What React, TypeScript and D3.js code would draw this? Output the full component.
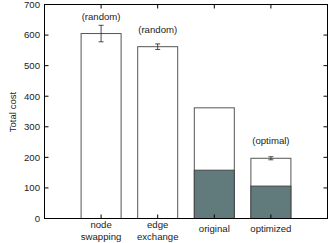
import * as d3 from "d3";

const categories = ["node swapping", "edge exchange", "original", "optimized"];
const catLines = [["node", "swapping"], ["edge", "exchange"], ["original"], ["optimized"]];
const totals = [605, 562, 362, 197];
const darkPart = [0, 0, 158, 106];
const errors = [27, 9, 0, 5];
const notes = ["(random)", "(random)", "", "(optimal)"];
const yTicks = [0, 100, 200, 300, 400, 500, 600, 700];

export default function App() {
  const width = 329;
  const height = 243;
  const left = 44.5;
  const right = 327.5;
  const top = 4.5;
  const bottom = 218.5;

  const x = d3.scaleLinear([0, categories.length + 1], [left, right]);
  const y = d3.scaleLinear([0, 700], [bottom, top]);
  const barW = 40;
  const font = "'Liberation Sans', Arial, sans-serif";

  return (
    <svg
      width={width}
      height={height}
      style={{ position: "absolute", left: 0, top: 0, background: "#fff" }}
      fontFamily={font}
      fontSize={9.6}
    >
      {categories.map((c, i) => {
        const cx = x(i + 1);
        return (
          <g key={c}>
            <rect
              x={cx - barW / 2}
              y={y(totals[i])}
              width={barW}
              height={y(0) - y(totals[i])}
              fill="#fff"
              stroke="#555"
              strokeWidth={1}
            />
            {darkPart[i] > 0 && (
              <rect
                x={cx - barW / 2}
                y={y(darkPart[i])}
                width={barW}
                height={y(0) - y(darkPart[i])}
                fill="#617b7c"
                stroke="#444"
                strokeWidth={1}
              />
            )}
            {errors[i] > 0 && (
              <g stroke="#222" strokeWidth={0.8}>
                <line x1={cx} x2={cx} y1={y(totals[i] - errors[i])} y2={y(totals[i] + errors[i])} />
                <line x1={cx - 2.5} x2={cx + 2.5} y1={y(totals[i] - errors[i])} y2={y(totals[i] - errors[i])} />
                <line x1={cx - 2.5} x2={cx + 2.5} y1={y(totals[i] + errors[i])} y2={y(totals[i] + errors[i])} />
              </g>
            )}
            {notes[i] && (
              <text x={cx} y={y(totals[i]) - 14} textAnchor="middle" fill="#222">
                {notes[i]}
              </text>
            )}
            <text textAnchor="middle" fill="#222">
              {catLines[i].map((t, j) => (
                <tspan
                  key={j}
                  x={cx}
                  y={catLines[i].length === 1 ? 232 : 228 + j * 12}
                >
                  {t}
                </tspan>
              ))}
            </text>
          </g>
        );
      })}
      {/* category ticks, top and bottom */}
      {categories.map((c, i) => (
        <g key={"t" + c} stroke="#000" strokeWidth={1}>
          <line x1={x(i + 1)} x2={x(i + 1)} y1={bottom} y2={bottom - 4} />
          <line x1={x(i + 1)} x2={x(i + 1)} y1={top} y2={top + 4} />
        </g>
      ))}
      {yTicks.map((t) => (
        <g key={t}>
          <line x1={left} x2={left + 4} y1={y(t)} y2={y(t)} stroke="#000" />
          <line x1={right} x2={right - 4} y1={y(t)} y2={y(t)} stroke="#000" />
          <text x={40} y={y(t)} dy="0.35em" textAnchor="end" fill="#222">
            {t}
          </text>
        </g>
      ))}
      <rect
        x={left}
        y={top}
        width={right - left}
        height={bottom - top}
        fill="none"
        stroke="#000"
        strokeWidth={1}
      />
      <text
        transform={`translate(16,112) rotate(-90)`}
        textAnchor="middle"
        fill="#222"
      >
        Total cost
      </text>
    </svg>
  );
}
